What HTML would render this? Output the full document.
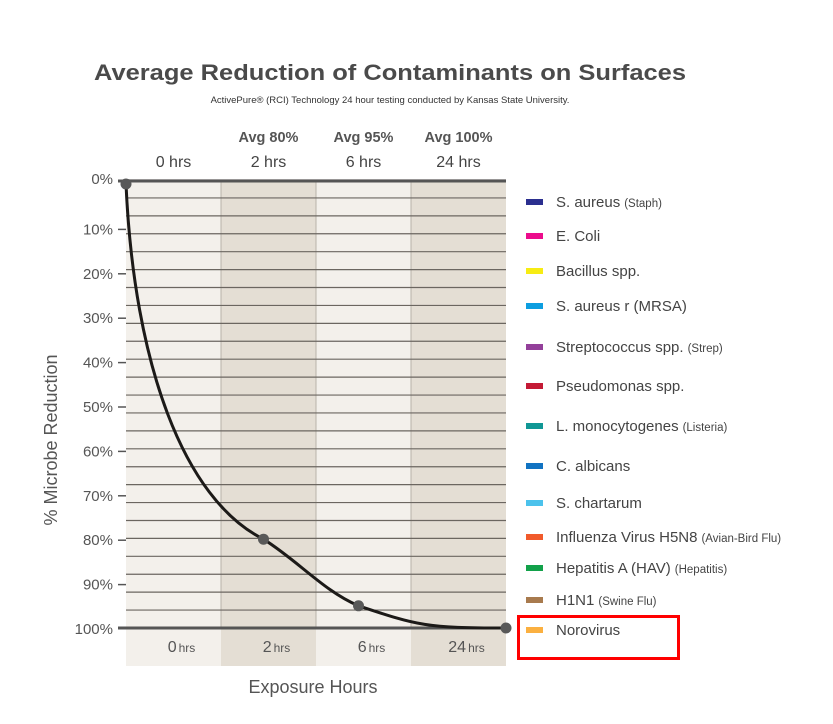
<!DOCTYPE html>
<html><head><meta charset="utf-8"><style>
body{margin:0;background:#fff;width:833px;height:724px;overflow:hidden;font-family:"Liberation Sans",sans-serif}
svg{display:block}
</style></head><body>
<svg width="833" height="724">
<text x="390" y="80" text-anchor="middle" font-size="22" font-weight="bold" fill="#4a4a4a" textLength="592" lengthAdjust="spacingAndGlyphs">Average Reduction of Contaminants on Surfaces</text>
<text x="390" y="103" text-anchor="middle" font-size="9.5" fill="#333">ActivePure® (RCI) Technology 24 hour testing conducted by Kansas State University.</text>
<g id="plot"></g>
<g id="legend"></g>
<text x="313" y="693" text-anchor="middle" font-size="18" fill="#555">Exposure Hours</text>
<text transform="translate(57,440) rotate(-90)" text-anchor="middle" font-size="18" fill="#555">% Microbe Reduction</text>
<rect x="518.5" y="616.5" width="160" height="42" fill="none" stroke="#f00" stroke-width="3"/>
</svg>
<script>
const categories=["0 hrs","2 hrs","6 hrs","24 hrs"];
const hourLabels=["0","2","6","24"];
const avgLabels=["","Avg 80%","Avg 95%","Avg 100%"];
const values=[0,80,95,100];
const yTicks=[0,10,20,30,40,50,60,70,80,90,100];
const legendNames=["S. aureus","E. Coli","Bacillus spp.","S. aureus r (MRSA)","Streptococcus spp.","Pseudomonas spp.","L. monocytogenes","C. albicans","S. chartarum","Influenza Virus H5N8","Hepatitis A (HAV)","H1N1","Norovirus"];
const legendNotes=["(Staph)","","","","(Strep)","","(Listeria)","","","(Avian-Bird Flu)","(Hepatitis)","(Swine Flu)",""];
const legendColors=["#2b2f8f","#ec0c8c","#f7ec13","#0d9ee0","#93409a","#c41a35","#109795","#1173c2","#4cc2ec","#f15a2b","#12a14a","#a87a4e","#fbb040"];
const NS="http://www.w3.org/2000/svg";
const L=126,R=506,T=184,B=628;
function y(v){return T+(B-T)*v/100;}
function colX(i){return L+(R-L)*i/categories.length;}
function ptX(i){if(i===0)return L;if(i===categories.length-1)return R;return colX(i)+(R-L)/categories.length/2-5;}
function mk(tag,attrs,parent,txt){const e=document.createElementNS(NS,tag);for(const k in attrs)e.setAttribute(k,attrs[k]);if(txt!==undefined)e.textContent=txt;parent.appendChild(e);return e;}
const plot=document.getElementById('plot');
categories.forEach((c,i)=>{
 const r=mk('rect',{x:colX(i),y:180,width:(R-L)/4,height:486,fill:i%2?'#e4ded4':'#f3f0eb'},plot);
 
 
 if(i>0)mk('line',{x1:colX(i),x2:colX(i),y1:180,y2:628,stroke:'#b9b3aa','stroke-width':1},plot);
 const t=mk('text',{x:colX(i)+(R-L)/8,y:167,'text-anchor':'middle','font-size':16,fill:'#444'},plot,c);
 
 
 if(avgLabels[i]){const a=mk('text',{x:colX(i)+(R-L)/8,y:142,'text-anchor':'middle','font-size':14.5,'font-weight':'bold',fill:'#555'},plot,avgLabels[i]);
 
 }
 const b=mk('text',{x:colX(i)+(R-L)/8+8,y:652,'text-anchor':'middle','font-size':16,fill:'#555'},plot);
 
 
 mk('tspan',{},b,hourLabels[i]);mk('tspan',{'font-size':12,dx:2},b,'hrs');
});
for(let k=0;k<=25;k++){const yy=180+k*(B-180)/25;mk('line',{x1:L,x2:R,y1:yy,y2:yy,stroke:'#6b6660','stroke-width':1.2},plot);}
mk('line',{x1:118,x2:R,y1:181,y2:181,stroke:'#555','stroke-width':3},plot);
mk('line',{x1:118,x2:R,y1:B,y2:B,stroke:'#555','stroke-width':3},plot);
yTicks.forEach(v=>{
 if(v>0&&v<100)mk('line',{x1:118,x2:L,y1:y(v)+1,y2:y(v)+1,stroke:'#555','stroke-width':1.5},plot);
 const t=mk('text',{x:113,y:y(v)+(v===0?0:6),'text-anchor':'end','font-size':15,fill:'#555'},plot,v+'%');
 
 
});
const pts=values.map((v,i)=>[ptX(i),y(v)]);
let d='M'+pts[0][0]+','+pts[0][1];
d+=' C'+(pts[0][0]+8)+','+(pts[0][1]+180)+' '+(pts[1][0]-80)+','+(pts[1][1]-40)+' '+pts[1][0]+','+pts[1][1];
d+=' C'+(pts[1][0]+35)+','+(pts[1][1]+22)+' '+(pts[2][0]-35)+','+(pts[2][1]-15)+' '+pts[2][0]+','+pts[2][1];
d+=' C'+(pts[2][0]+60)+','+(pts[2][1]+20)+' '+(pts[3][0]-80)+','+pts[3][1]+' '+pts[3][0]+','+pts[3][1];
const c=mk('path',{d:d,fill:'none',stroke:'#1c1a18','stroke-width':3},plot);


pts.forEach((p,i)=>{const m=mk('circle',{cx:p[0],cy:p[1],r:5.5,fill:'#595959'},plot);
 
 });
const lg=document.getElementById('legend');
const ly=[202,236,271,306,347,386,426,466,503,537,568,600,630];
legendNames.forEach((n,i)=>{
 const g=mk('g',{},lg);
 
 
 mk('rect',{x:526,y:ly[i]-3,width:17,height:6,fill:legendColors[i]},g);
 const t=mk('text',{x:556,y:ly[i]+5,'font-size':15,fill:'#444'},g,n);
 if(legendNotes[i])mk('tspan',{'font-size':11.5,dx:4},t,legendNotes[i]);
});
</script>
</body></html>
